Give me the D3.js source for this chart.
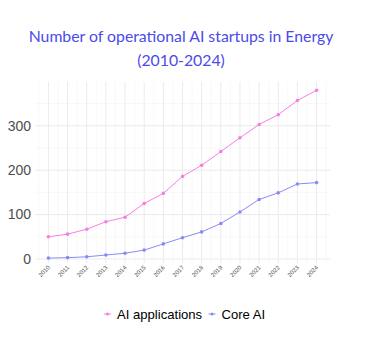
<!DOCTYPE html>
<html><head><meta charset="utf-8">
<script src="https://cdn.jsdelivr.net/npm/d3@7"></script>
<style>body{margin:0;background:#fff}svg{display:block}</style>
</head><body>
<script>
const years = [2010,2011,2012,2013,2014,2015,2016,2017,2018,2019,2020,2021,2022,2023,2024];
const aiApplications = [50,56,67,84,94,125,148,186,211,242,273,303,325,357,380];
const coreAI = [2,3,5,9,13,20,34,48,61,80,106,134,149,169,172];
const yTicks = [0,100,200,300];
const seriesNames = ["AI applications","Core AI"];
const colors = ["#f77fe3","#8a8af7"];

(function(){
const W=371,H=356;
const svg=d3.select("body").append("svg").attr("width",W).attr("height",H);
const pl=35,pr=330,pt=82,pb=263;
const x=d3.scaleLinear().domain([2009.3,2024.7]).range([pl,pr]);
const y=d3.scaleLinear().domain([-9,398.6]).range([pb,pt]);

const g=svg.append("g");
const minorX=d3.range(2009.5,2025,1);
g.selectAll(".mx").data(minorX).join("line").attr("x1",d=>x(d)).attr("x2",d=>x(d)).attr("y1",pt).attr("y2",pb).attr("stroke","#f4f4f4").attr("stroke-width",0.6);
const minorY=[50,150,250,350];
g.selectAll(".my").data(minorY).join("line").attr("x1",pl).attr("x2",pr).attr("y1",d=>y(d)).attr("y2",d=>y(d)).attr("stroke","#f4f4f4").attr("stroke-width",0.6);
g.selectAll(".gx").data(years).join("line").attr("x1",d=>x(d)).attr("x2",d=>x(d)).attr("y1",pt).attr("y2",pb).attr("stroke","#ebebeb").attr("stroke-width",1);
g.selectAll(".gy").data(yTicks).join("line").attr("x1",pl).attr("x2",pr).attr("y1",d=>y(d)).attr("y2",d=>y(d)).attr("stroke","#ebebeb").attr("stroke-width",1);

g.selectAll(".yl").data(yTicks).join("text").attr("x",31).attr("y",d=>y(d)).attr("dy","0.35em").attr("text-anchor","end")
 .attr("font-family","Liberation Sans, Arial, sans-serif").attr("font-size",14).attr("fill","#4d4d4d").text(d=>d);
g.selectAll(".xl").data(years).join("text").attr("transform",d=>`translate(${x(d)+2},${268}) rotate(-45)`).attr("text-anchor","end")
 .attr("font-family","Liberation Sans, Arial, sans-serif").attr("font-size",6).attr("fill","#4d4d4d").text(d=>d);

const data=[aiApplications,coreAI];
const line=d3.line().x((d,i)=>x(years[i])).y(d=>y(d));
data.forEach((s,k)=>{
  g.append("path").attr("d",line(s)).attr("fill","none").attr("stroke",colors[k]).attr("stroke-width",1);
  g.selectAll(".p"+k).data(s).join("circle").attr("cx",(d,i)=>x(years[i])).attr("cy",d=>y(d)).attr("r",1.8).attr("fill",colors[k]);
});

const t=svg.append("text").attr("text-anchor","middle").attr("font-family","Lato, sans-serif").attr("font-size",15.8).attr("fill","#4b4bea");
t.append("tspan").attr("x",181).attr("y",42).text("Number of operational AI startups in Energy");
t.append("tspan").attr("x",181).attr("y",66).text("(2010-2024)");

const lg=svg.append("g");
const lx=[104,208.5];
seriesNames.forEach((n,k)=>{
  lg.append("line").attr("x1",lx[k]).attr("x2",lx[k]+7).attr("y1",314).attr("y2",314).attr("stroke",colors[k]).attr("stroke-width",1);
  lg.append("circle").attr("cx",lx[k]+3.5).attr("cy",314).attr("r",1.5).attr("fill",colors[k]);
  lg.append("text").attr("x",lx[k]+13).attr("y",314).attr("dy","0.35em").attr("font-family","Liberation Sans, Arial, sans-serif").attr("font-size",13.1).attr("fill","#000").text(n);
});
})();
</script>
</body></html>
